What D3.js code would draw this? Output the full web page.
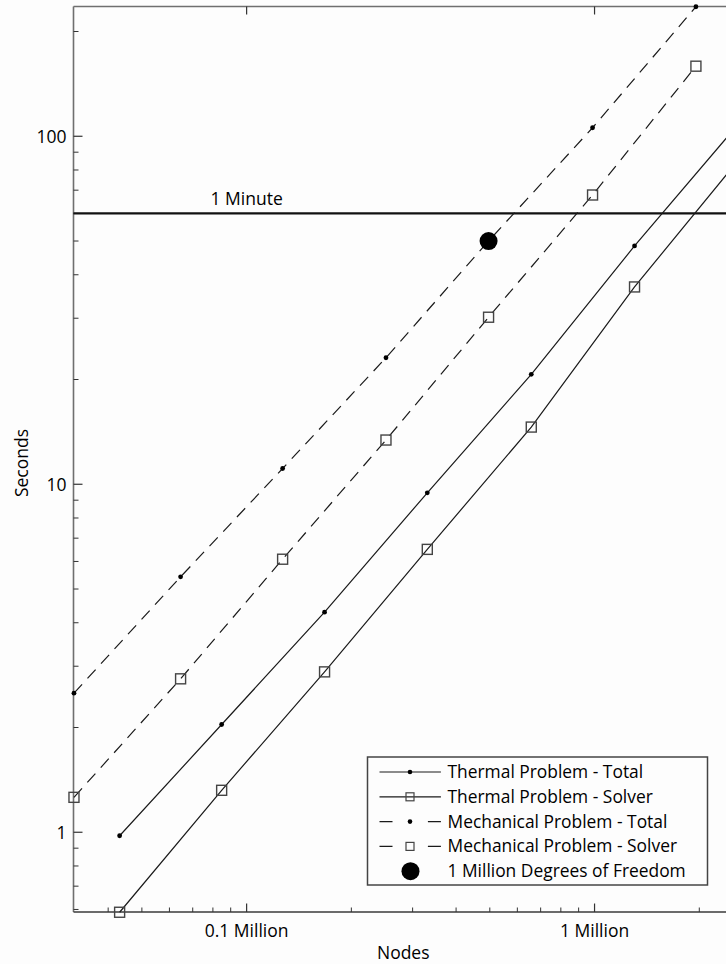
<!DOCTYPE html>
<html>
<head>
<meta charset="utf-8">
<script src="https://cdn.jsdelivr.net/npm/d3@7"></script>
<style>
  html, body { margin: 0; padding: 0; background: #fdfdfd; }
  svg { display: block; overflow: hidden; font-family: "Open Sans", sans-serif; }
</style>
</head>
<body>
<svg id="chart" width="726" height="964"></svg>
<script>
// Scaling study: wall-clock time vs. mesh size (log-log)
const mechNodes      = [31900, 64600, 126900, 251500, 495900, 986900, 1956000];
const mechTotal      = [2.51, 5.42, 11.1, 23.1, 50.0, 105.8, 235.6];
const mechSolver     = [1.26, 2.76, 6.09, 13.4, 30.2, 67.8, 159];
const thermalNodes   = [43150, 84770, 167500, 330600, 657900, 1303000, 2580000];
const thermalTotal   = [0.977, 2.04, 4.29, 9.45, 20.7, 48.4, 108];
const thermalSolver  = [0.589, 1.32, 2.89, 6.50, 14.6, 36.9, 85];
const millionDof     = [{ nodes: 495900, seconds: 50.0 }];
const oneMinute      = 60;

const xMajorTicks  = [1e5, 1e6];
const xTickLabels  = ["0.1 Million", "1 Million"];
const yMajorTicks  = [1, 10, 100];
const yTickLabels  = ["1", "10", "100"];

const seriesNames = [
  "Thermal Problem - Total",
  "Thermal Problem - Solver",
  "Mechanical Problem - Total",
  "Mechanical Problem - Solver",
  "1 Million Degrees of Freedom"
];

const svg = d3.select("#chart");
const W = 726, H = 964;
const plotL = 73.5, plotT = 6.5, plotB = 912, plotR = 733;
const textCol = "#000";

svg.append("rect").attr("width", W).attr("height", H).attr("fill", "#fdfdfd");

const x = d3.scaleLog().domain([31800, 2.5e6]).range([plotL, plotR]);
const y = d3.scaleLog().domain([0.59, 236]).range([plotB, plotT]);

const isMajor = v => Math.abs(Math.log10(v) - Math.round(Math.log10(v))) < 1e-9;
const xMinor = x.ticks().filter(v => !isMajor(v));
const yMinor = y.ticks().filter(v => !isMajor(v));

const axisCol = "#6f6f6f", tickCol = "#333";

// left axis
const gy = svg.append("g").attr("transform", `translate(${plotL},0)`);
gy.append("line").attr("x1", 0).attr("x2", 0).attr("y1", plotT).attr("y2", plotB)
  .attr("stroke", axisCol).attr("stroke-width", 1.6);
gy.selectAll("line.minor").data(yMinor).join("line").attr("class", "minor")
  .attr("x1", 0).attr("x2", 5).attr("y1", d => y(d)).attr("y2", d => y(d))
  .attr("stroke", tickCol).attr("stroke-width", 1);
gy.selectAll("line.major").data(yMajorTicks).join("line").attr("class", "major")
  .attr("x1", 0).attr("x2", 9).attr("y1", d => y(d)).attr("y2", d => y(d))
  .attr("stroke", tickCol).attr("stroke-width", 1.2);
gy.selectAll("text").data(yMajorTicks).join("text")
  .attr("x", -7).attr("y", d => y(d) + 7)
  .attr("text-anchor", "end").attr("font-size", 17.5).attr("fill", textCol)
  .text((d, i) => yTickLabels[i]);

// top frame with major ticks
svg.append("line").attr("x1", plotL).attr("x2", W).attr("y1", plotT).attr("y2", plotT)
  .attr("stroke", axisCol).attr("stroke-width", 1.6);
svg.selectAll("line.topTick").data(xMajorTicks).join("line").attr("class", "topTick")
  .attr("x1", d => x(d)).attr("x2", d => x(d)).attr("y1", plotT).attr("y2", plotT + 8)
  .attr("stroke", tickCol).attr("stroke-width", 1.2);

// bottom axis
const gx = svg.append("g").attr("transform", `translate(0,${plotB})`);
gx.append("line").attr("x1", plotL).attr("x2", W).attr("y1", 0).attr("y2", 0)
  .attr("stroke", "#3a3a3a").attr("stroke-width", 1.6);
gx.selectAll("line.minor").data(xMinor).join("line").attr("class", "minor")
  .attr("x1", d => x(d)).attr("x2", d => x(d)).attr("y1", 0).attr("y2", -4.5)
  .attr("stroke", tickCol).attr("stroke-width", 1);
gx.selectAll("line.major").data(xMajorTicks).join("line").attr("class", "major")
  .attr("x1", d => x(d)).attr("x2", d => x(d)).attr("y1", 0).attr("y2", -8.5)
  .attr("stroke", tickCol).attr("stroke-width", 1.2);
gx.selectAll("text").data(xMajorTicks).join("text")
  .attr("x", d => x(d)).attr("y", 25)
  .attr("text-anchor", "middle").attr("font-size", 17.5).attr("fill", textCol)
  .text((d, i) => xTickLabels[i]);

// axis titles
svg.append("text").attr("x", (plotL + plotR) / 2).attr("y", 958.5)
  .attr("text-anchor", "middle").attr("font-size", 17.5).attr("fill", textCol).text("Nodes");
svg.append("text").attr("transform", `translate(28,463) rotate(-90)`)
  .attr("text-anchor", "middle").attr("font-size", 17.5).attr("fill", textCol).text("Seconds");

// one-minute reference line
svg.append("line").attr("x1", plotL).attr("x2", W).attr("y1", y(oneMinute)).attr("y2", y(oneMinute))
  .attr("stroke", "#111").attr("stroke-width", 2.2);
svg.append("text").attr("x", x(1e5)).attr("y", y(oneMinute) - 8)
  .attr("text-anchor", "middle").attr("font-size", 17.5).attr("fill", textCol).text("1 Minute");

// series
const series = [
  { nodes: thermalNodes, vals: thermalTotal,  dash: null,   marker: "dot" },
  { nodes: thermalNodes, vals: thermalSolver, dash: null,   marker: "square" },
  { nodes: mechNodes,    vals: mechTotal,     dash: "12,8", marker: "dot" },
  { nodes: mechNodes,    vals: mechSolver,    dash: "12,8", marker: "square" }
];
const line = d3.line().x(d => x(d[0])).y(d => y(d[1]));
const lineCol = "#1a1a1a";

series.forEach(s => {
  const pts = s.nodes.map((n, i) => [n, s.vals[i]]);
  svg.append("path").datum(pts).attr("d", line)
    .attr("fill", "none").attr("stroke", lineCol).attr("stroke-width", 1.2)
    .attr("stroke-dasharray", s.dash);
  if (s.marker === "dot") {
    svg.selectAll(null).data(pts).join("circle")
      .attr("cx", d => x(d[0])).attr("cy", d => y(d[1])).attr("r", 2.4).attr("fill", "#000");
  } else {
    svg.selectAll(null).data(pts).join("rect")
      .attr("x", d => x(d[0]) - 5).attr("y", d => y(d[1]) - 5)
      .attr("width", 10).attr("height", 10)
      .attr("fill", "none").attr("stroke", "#444").attr("stroke-width", 1.4);
  }
});

svg.selectAll(null).data(millionDof).join("circle")
  .attr("cx", d => x(d.nodes)).attr("cy", d => y(d.seconds)).attr("r", 9).attr("fill", "#000");

// legend
const lg = svg.append("g").attr("transform", "translate(367.5,757)");
lg.append("rect").attr("width", 340).attr("height", 128)
  .attr("fill", "#fdfdfd").attr("stroke", "#444").attr("stroke-width", 1.5);
const legendDefs = [
  { dash: null, marker: "dot" },
  { dash: null, marker: "square" },
  { dash: "13,35.4", marker: "dot" },
  { dash: "13,35.4", marker: "square" },
  { dash: "none", marker: "big" }
];
legendDefs.forEach((d, i) => {
  const cy = 15 + i * 24.8;
  const row = lg.append("g").attr("transform", `translate(0,${cy})`);
  if (d.dash !== "none") {
    row.append("line").attr("x1", 12).attr("x2", 73.4).attr("y1", 0).attr("y2", 0)
      .attr("stroke", lineCol).attr("stroke-width", 1.2).attr("stroke-dasharray", d.dash);
  }
  if (d.marker === "dot") {
    row.append("circle").attr("cx", 42.5).attr("cy", 0).attr("r", 2.3).attr("fill", "#000");
  } else if (d.marker === "square") {
    row.append("rect").attr("x", 38.5).attr("y", -4).attr("width", 8).attr("height", 8)
      .attr("fill", "none").attr("stroke", "#444").attr("stroke-width", 1.2);
  } else {
    row.append("circle").attr("cx", 43).attr("cy", 0).attr("r", 9).attr("fill", "#000");
  }
  row.append("text").attr("x", 80).attr("y", 6).attr("font-size", 17.4).attr("fill", textCol)
    .text(seriesNames[i]);
});
</script>
</body>
</html>
